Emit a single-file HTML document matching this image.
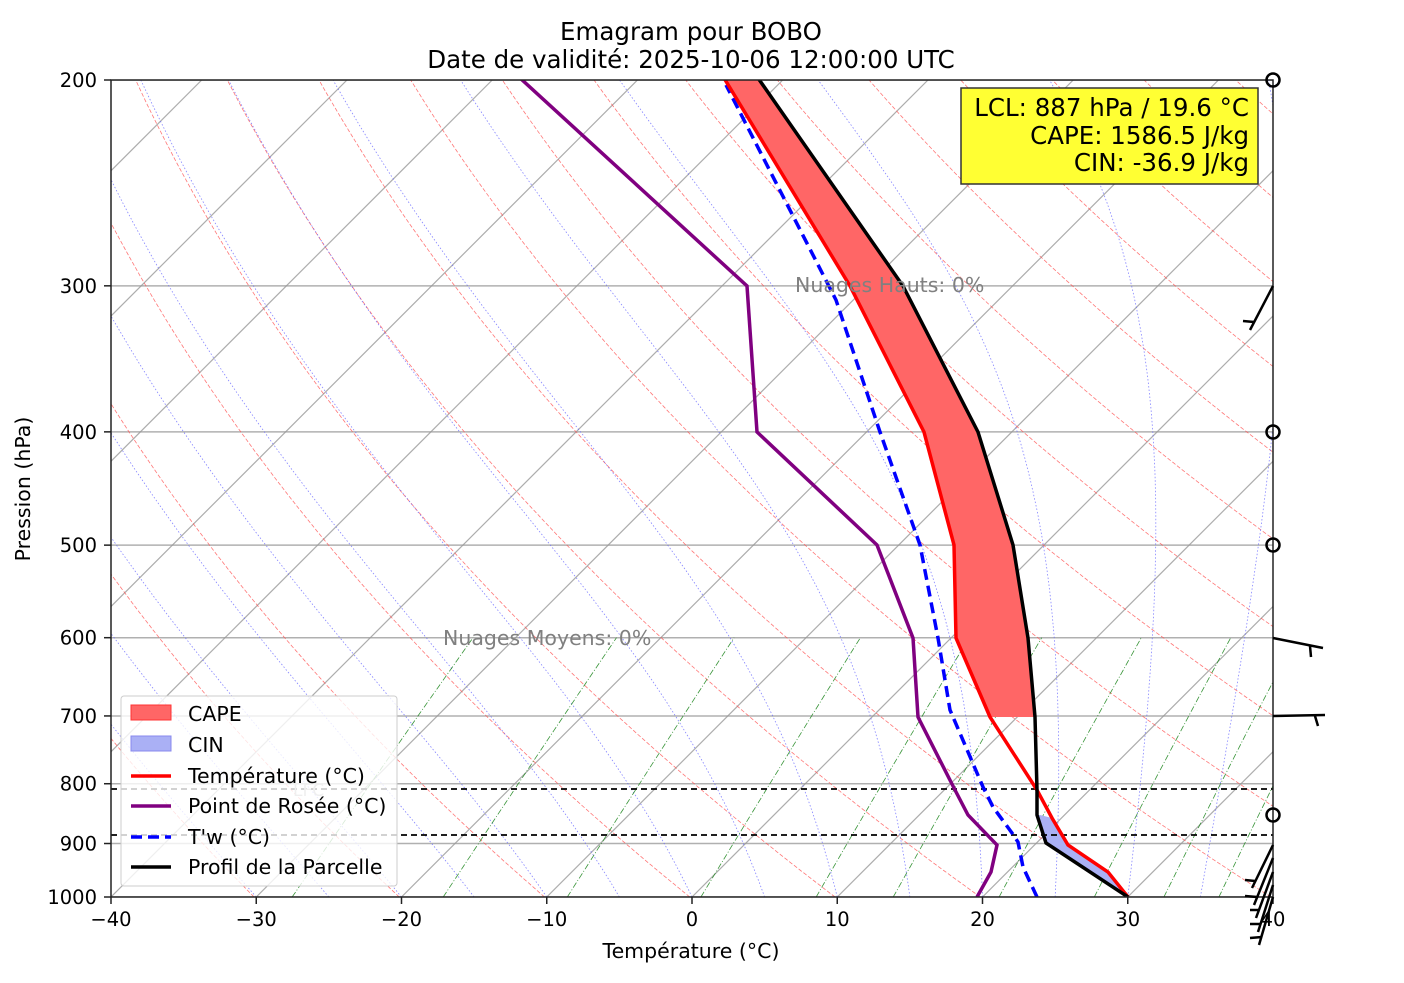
<!DOCTYPE html>
<html><head><meta charset="utf-8">
<style>
body{margin:0;background:#fff;font-family:"Liberation Sans","DejaVu Sans",sans-serif;}
svg text{font-family:"DejaVu Sans","Liberation Sans",sans-serif;}
</style></head>
<body>
<svg id="s" width="1404" height="978" xmlns="http://www.w3.org/2000/svg">
<defs><clipPath id="c"><rect x="111" y="80" width="1162" height="817"/></clipPath></defs>
<rect width="1404" height="978" fill="#fff"/>
<g id="bg" clip-path="url(#c)"></g>
<g id="fg" clip-path="url(#c)">
<polygon fill="#ff6666" points="726,80 850,286 924,432 954,545 956,638 990,717 1035,717 1028,638 1013,545 978,432 903,286 758,80"/>
<polygon fill="#aab0f5" points="1040,815 1052,818 1068,845 1108,872 1128,897 1046,843 1037,815"/>
<line x1="111" y1="789" x2="1273" y2="789" stroke="#000" stroke-width="1.7" stroke-dasharray="6,4"/>
<line x1="111" y1="835" x2="1273" y2="835" stroke="#000" stroke-width="1.7" stroke-dasharray="6,4"/>
<polyline fill="none" stroke="#800080" stroke-width="3.5" points="977,897 991,872 997,845 968,815 955,790 918,717 913,638 877,545 757,432 747,286 520,78"/>
<polyline fill="none" stroke="#0000ff" stroke-width="3.5" stroke-dasharray="11,6" points="1037,897 1023,867 1018,842 1012,833 993,807 983,787 950,710 938,638 920,545 880,432 836,300 726,85"/>
<polyline fill="none" stroke="#ff0000" stroke-width="3.5" points="1128,897 1108,872 1068,845 1052,818 1037,790 990,717 956,638 954,545 924,432 850,286 724,78"/>
<polyline fill="none" stroke="#000" stroke-width="3.5" points="1128,897 1046,843 1037,815 1037,790 1035,717 1028,638 1013,545 978,432 903,286 758,78"/>
</g>
<text x="795" y="292" font-size="20.5" fill="#808080">Nuages Hauts: 0%</text>
<text x="443" y="645" font-size="20.5" fill="#808080">Nuages Moyens: 0%</text>
<text x="293" y="796" font-size="17" fill="#b0b0b0">LFC</text>
<rect x="111" y="80" width="1162" height="817" fill="none" stroke="#222" stroke-width="1.5"/>
<g id="ticks"></g>
<g stroke="#000" stroke-width="2.5" fill="none">
<circle cx="1273" cy="80" r="6.5"/><circle cx="1273" cy="432" r="6.5"/><circle cx="1273" cy="545" r="6.5"/><circle cx="1273" cy="815" r="6.5"/>
<line x1="1273" y1="286" x2="1250" y2="330"/><line x1="1254" y1="322" x2="1243" y2="321"/>
<line x1="1273" y1="638" x2="1323" y2="648"/><line x1="1310" y1="646" x2="1311" y2="657"/>
<line x1="1273" y1="716" x2="1325" y2="715"/><line x1="1315" y1="716" x2="1318" y2="726"/>
<line x1="1273" y1="845" x2="1252" y2="888"/><line x1="1255" y1="881" x2="1245" y2="880"/>
<line x1="1273" y1="858" x2="1254" y2="905"/><line x1="1257" y1="897" x2="1245" y2="896"/>
<line x1="1273" y1="872" x2="1256" y2="918"/><line x1="1259" y1="910" x2="1250" y2="910"/>
<line x1="1273" y1="885" x2="1258" y2="932"/><line x1="1261" y1="924" x2="1250" y2="924"/>
<line x1="1273" y1="897" x2="1259" y2="945"/><line x1="1262" y1="937" x2="1250" y2="938"/>
</g>
<rect x="121" y="696" width="276" height="190" fill="#fff" fill-opacity="0.8" stroke="#ccc" rx="3"/>
<rect x="131" y="705" width="40" height="15" fill="#ff6666" stroke="#ff3333"/>
<rect x="131" y="736" width="40" height="15" fill="#aab0f5" stroke="#8888ee"/>
<line x1="131" y1="776" x2="171" y2="776" stroke="#f00" stroke-width="3.5"/>
<line x1="131" y1="806" x2="171" y2="806" stroke="#800080" stroke-width="3.5"/>
<line x1="131" y1="837" x2="171" y2="837" stroke="#00f" stroke-width="3.5" stroke-dasharray="11,6"/>
<line x1="131" y1="867" x2="171" y2="867" stroke="#000" stroke-width="3.5"/>
<g font-size="20.5" fill="#000">
<text x="188" y="721">CAPE</text><text x="188" y="752">CIN</text>
<text x="188" y="783">Température (°C)</text><text x="188" y="813">Point de Rosée (°C)</text>
<text x="188" y="844">T'w (°C)</text><text x="188" y="874">Profil de la Parcelle</text>
</g>
<rect x="961" y="88" width="297" height="96" fill="#ffff33" stroke="#333" stroke-width="1.5"/>
<g font-size="24.5" text-anchor="end" fill="#000">
<text x="1249" y="116">LCL: 887 hPa / 19.6 °C</text>
<text x="1249" y="144">CAPE: 1586.5 J/kg</text>
<text x="1249" y="171">CIN: -36.9 J/kg</text>
</g>
<text x="691" y="40" font-size="24.5" text-anchor="middle">Emagram pour BOBO</text>
<text x="691" y="68" font-size="24.5" text-anchor="middle">Date de validité: 2025-10-06 12:00:00 UTC</text>
<text x="691" y="958" font-size="20.5" text-anchor="middle">Température (°C)</text>
<text transform="translate(30,489) rotate(-90)" font-size="20.5" text-anchor="middle">Pression (hPa)</text>
<script>
var NS="http://www.w3.org/2000/svg";
function Y(p){return 80+817*Math.log(p/200)/Math.log(5);}
function X(T,p){return 111+(T+40)*14.525+(897-Y(p));}
function el(par,tag,a){var e=document.createElementNS(NS,tag);for(var k in a)e.setAttribute(k,a[k]);par.appendChild(e);return e;}
var bg=document.getElementById('bg'),tk=document.getElementById('ticks');
function pl(pts,st){el(bg,'polyline',Object.assign({points:pts.map(function(q){return q[0].toFixed(1)+','+q[1].toFixed(1)}).join(' '),fill:'none'},st));}
[200,300,400,500,600,700,800,900,1000].forEach(function(p){el(bg,'line',{x1:111,x2:1273,y1:Y(p),y2:Y(p),stroke:'#b0b0b0','stroke-width':1.5});
 el(tk,'line',{x1:104,x2:111,y1:Y(p),y2:Y(p),stroke:'#222','stroke-width':1.5});
 var t=el(tk,'text',{x:97,y:Y(p)+7,'font-size':19.5,'text-anchor':'end'});t.textContent=p;});
for(var T=-40;T<=40;T+=10){var x=111+(T+40)*14.525;el(tk,'line',{x1:x,x2:x,y1:897,y2:904,stroke:'#222','stroke-width':1.5});
 var t=el(tk,'text',{x:x,y:926,'font-size':19.5,'text-anchor':'middle'});t.textContent=(T<0?'\u2212'+(-T):T);}
for(var T=-120;T<=40;T+=10){var x0=111+(T+40)*14.525;el(bg,'line',{x1:x0,y1:897,x2:x0+817,y2:80,stroke:'#999','stroke-width':1.2,opacity:0.8});}
var ps=[];for(var p=1000;p>=195;p-=5)ps.push(p);
for(var th=223;th<=503;th+=10){pl(ps.map(function(p){return [X(th*Math.pow(p/1000,0.286)-273.15,p),Y(p)]}),{stroke:'#ff5555','stroke-width':0.8,'stroke-dasharray':'4,2',opacity:0.8});}
function es(T){return 6.112*Math.exp(17.67*T/(T+243.5));}
for(var T0=-30;T0<=40;T0+=5){var T=T0+273.15,pts=[];
 for(var p=1000;p>=195;p-=1){if(p%5==0)pts.push([X(T-273.15,p),Y(p)]);
  var rs=0.622*es(T-273.15)/(p-es(T-273.15));var L=2.5e6,Rd=287,Cp=1005;
  var dTdp=(Rd*T+L*rs)/(p*(Cp+L*L*rs*0.622/(Rd*T*T)));T-=dTdp;}
 pl(pts,{stroke:'#6666ff','stroke-width':0.8,'stroke-dasharray':'1.5,2',opacity:0.8});}
[0.4,1,2,4,7,10,16,24,32,40].forEach(function(w){var pts=[];for(var p=1000;p>=600;p-=10){var e=w/1000*p/(0.622+w/1000);var l=Math.log(e/6.112);var Td=243.5*l/(17.67-l);pts.push([X(Td,p),Y(p)]);}
 pl(pts,{stroke:'#228822','stroke-width':0.8,'stroke-dasharray':'6,2,1,2',opacity:0.9});});
</script>
</svg>
</body></html>
